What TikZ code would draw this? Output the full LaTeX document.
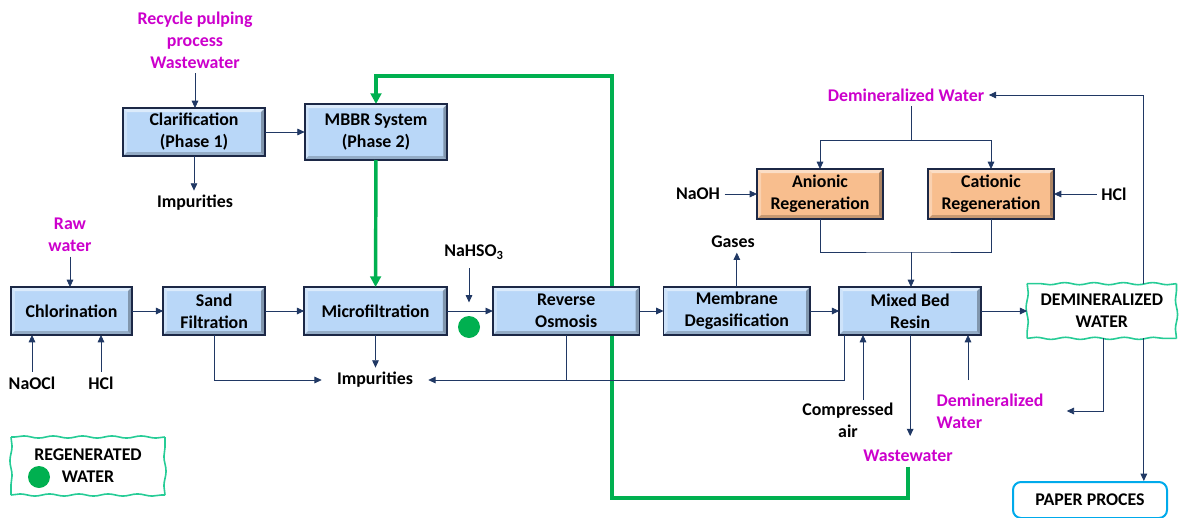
\documentclass[tikz,border=0pt]{standalone}
\usepackage{fontspec}
\setmainfont{Carlito}
\usetikzlibrary{arrows.meta,positioning,calc,backgrounds,decorations.pathmorphing}
\definecolor{bc}{RGB}{185,215,248}
\definecolor{oc}{RGB}{248,190,142}
\definecolor{nv}{RGB}{32,56,100}
\definecolor{ed}{RGB}{28,40,70}
\definecolor{mg}{RGB}{204,0,204}
\definecolor{gc}{RGB}{0,176,80}
\definecolor{tc}{RGB}{38,204,150}
\definecolor{pc}{RGB}{0,170,235}
\tikzset{bevel/.style={path picture={
   \coordinate (bnw) at (path picture bounding box.north west);
   \coordinate (bne) at (path picture bounding box.north east);
   \coordinate (bsw) at (path picture bounding box.south west);
   \coordinate (bse) at (path picture bounding box.south east);
   \fill[white,opacity=.5] (bnw) -- (bne) -- ([shift={(-3pt,-3pt)}]bne) -- ([shift={(3pt,-3pt)}]bnw) -- cycle;
   \fill[white,opacity=.3] (bnw) -- ([shift={(3pt,-3pt)}]bnw) -- ([shift={(3pt,3pt)}]bsw) -- (bsw) -- cycle;
   \fill[black,opacity=.2] (bsw) -- (bse) -- ([shift={(-3pt,3pt)}]bse) -- ([shift={(3pt,3pt)}]bsw) -- cycle;
   \fill[black,opacity=.3] (bne) -- (bse) -- ([shift={(-3pt,3pt)}]bse) -- ([shift={(-3pt,-3pt)}]bne) -- cycle;}},
 pbox/.style={draw=ed,line width=1.4pt,fill=bc,align=center,minimum height=36pt,outer sep=0pt,bevel},
 rbox/.style={pbox,fill=oc,minimum height=37.5pt,minimum width=94.5pt},
 wbox/.style={align=center,outer sep=0pt},
 wavy/.style={tc,line width=1.2pt,decorate,decoration={snake,amplitude=.8pt,segment length=22pt}},
 arr/.style={nv,line width=.6pt,-{Triangle[length=5.5pt,width=5pt]}},
 wire/.style={nv,line width=.6pt},
 garr/.style={gc,line width=2.6pt,-{Triangle[length=8pt,width=8pt]}},
 inp/.style={text=mg,align=center},
 dot/.style={circle,fill=gc,minimum size=16.5pt,inner sep=0pt},
 every node/.style={font=\bfseries\fontsize{13.4}{16.5}\selectfont}}
\begin{document}
\begin{tikzpicture}[x=0.75pt,y=-0.75pt]
\useasboundingbox (0,0) rectangle (1179,518);
% main treatment line
\node[pbox,minimum width=91pt] (chlor) at (71.5,311) {Chlorination};
\node[pbox,minimum width=76.5pt,right=23.25pt of chlor] (sand) {Sand\\Filtration};
\node[pbox,minimum width=107pt,right=29.25pt of sand] (micro) {Microfiltration};
\node[pbox,minimum width=110pt,right=34.5pt of micro] (ro) {Reverse\\Osmosis};
\node[pbox,minimum width=110pt,right=18pt of ro] (memb) {Membrane\\Degasification};
\node[pbox,minimum width=106.5pt,right=21.75pt of memb] (mixed) {Mixed Bed\\Resin};
\node[wbox,minimum width=112pt,minimum height=41pt,right=34.5pt of mixed] (demin) {DEMINERALIZED\\WATER};
% recycled wastewater branch
\node[pbox,minimum width=106.5pt] (clar) at (194,132) {Clarification\\(Phase 1)};
\node[pbox,minimum width=107pt,minimum height=42pt] (mbbr) at (376,132) {MBBR System\\(Phase 2)};
% resin regeneration
\node[rbox] (anion) at (820,194) {Anionic\\Regeneration};
\node[rbox] (cation) at (991,194) {Cationic\\Regeneration};
\node[draw=pc,line width=1.5pt,rounded corners=6pt,minimum width=115.5pt,minimum height=27pt] (paper) at (1090,500) {PAPER PROCES};
% inputs and outputs
\node[inp] (recycle) at (195,40) {Recycle pulping\\process\\Wastewater};
\node (imp1) at (195,203) {Impurities};
\node[inp] (raw) at (70,235) {Raw\\water};
\node (naocl) at (32,383) {NaOCl};
\node (hcla) at (101,383) {HCl};
\node (imp2) at (375,380) {Impurities};
\node (nahso) at (474,252) {NaHSO\textsubscript{3}};
\node[dot] (rdot) at (469,327) {};
\node (gases) at (733,242) {Gases};
\node[inp] (dwtop) at (906,95) {Demineralized Water};
\node (naoh) at (698,194) {NaOH};
\node (hclb) at (1114,194) {HCl};
\node[align=center] (cair) at (848,420) {Compressed\\air};
\node[inp] (ww) at (908,456) {Wastewater};
\node[inp,align=left,anchor=west] (dwlow) at (932,411) {Demineralized\\Water};
\coordinate (airin) at (863,400);
\coordinate (dwin) at (968,380);
\coordinate (split) at (911,140);
\coordinate (merge) at (911,252);
\coordinate (loopbot) at (612,498);
\coordinate (looptop) at (612,76);
% legend
\node[wbox,minimum width=115.5pt,minimum height=43.5pt] (legend) at (88,466) {REGENERATED\\WATER};
\node[dot] (ldot) at (39,477) {};
% hand-drawn borders
\foreach \n in {demin,legend}
  \foreach \p/\q in {south west/south east,south east/north east,north east/north west,north west/south west}
    \draw[wavy] (\n.\p) -- (\n.\q);
% regenerated water loop
\begin{scope}[on background layer]
\draw[garr] (ww.south) |- (loopbot) |- (looptop) -| (mbbr.north);
\end{scope}
\draw[garr] (mbbr) -- (micro);
% connectors
\draw[arr] (recycle.south) -- (recycle.south |- clar.north);
\draw[arr] (clar) -- (clar.east -| mbbr.west);
\draw[arr] (clar.south) -- (clar.south |- imp1.north);
\draw[arr] (raw.south) -- (raw.south |- chlor.north);
\draw[arr] (naocl.north) -- (naocl.north |- chlor.south);
\draw[arr] (hcla.north) -- (hcla.north |- chlor.south);
\draw[arr] (chlor) -- (sand);
\draw[arr] (sand) -- (micro);
\draw[arr] (micro) -- (ro);
\draw[arr] (ro) -- (memb);
\draw[arr] (memb) -- (mixed);
\draw[arr] (mixed) -- (demin);
\draw[arr] (sand.south) |- ([xshift=-8pt]imp2.west);
\draw[arr] (micro.south) -- (micro.south |- imp2.north);
\draw[wire] ([xshift=4pt]mixed.south west) |- (ro.south |- imp2);
\draw[arr] (ro.south) |- ([xshift=8pt]imp2.east);
\draw[arr] ([yshift=-3pt]nahso.south -| rdot) -- ([yshift=10pt]rdot.north);
\draw[arr] (memb.north) -- (memb.north |- gases.south);
\draw[wire] (dwtop.south -| split) -- (split);
\draw[arr] (split) -| (anion.north);
\draw[arr] (split) -| (cation.north);
\draw[arr] (naoh) -- (anion);
\draw[arr] (hclb) -- (cation);
\draw[wire] (anion.south) |- (merge) -| (cation.south);
\draw[arr] (merge) -- (merge |- mixed.north);
\draw[arr] ([xshift=31.5pt]demin.north) |- (dwtop.east);
\draw[arr] (airin) -- (airin |- mixed.south);
\draw[arr] (dwin) -- (dwin |- mixed.south);
\draw[arr] (mixed.south) -- ([yshift=7pt]mixed.south |- ww.north);
\draw[arr] ([xshift=1.5pt]demin.south) |- ([xshift=14pt]dwlow.east);
\draw[arr] ([xshift=31.5pt]demin.south) -- ([xshift=31.5pt]demin.south |- paper.north);
\end{tikzpicture}
\end{document}
